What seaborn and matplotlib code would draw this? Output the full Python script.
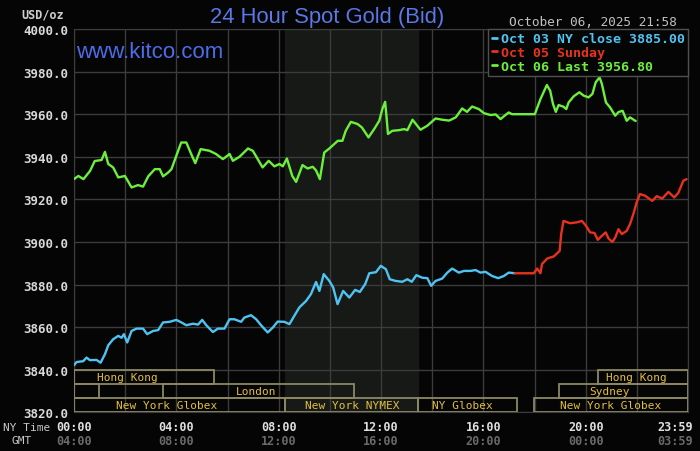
import matplotlib
matplotlib.use("Agg")
import matplotlib.pyplot as plt
import matplotlib.patches as mpatches
import matplotlib.transforms as mtransforms
from matplotlib.lines import Line2D
import seaborn as sns
import pandas as pd

# time in hours (NY time), price in USD/oz
oct03_hours = [0.0, 0.10, 0.36, 0.49, 0.62, 0.88, 1.04, 1.21, 1.34, 1.53, 1.73, 1.86, 1.95,
               2.08, 2.25, 2.44, 2.70, 2.86, 3.09, 3.29, 3.48, 3.74, 4.00, 4.20, 4.39, 4.65,
               4.85, 5.01, 5.17, 5.43, 5.62, 5.88, 6.08, 6.27, 6.53, 6.66, 6.92, 7.12, 7.31,
               7.57, 7.77, 7.96, 8.22, 8.42, 8.61, 8.81, 9.07, 9.26, 9.46, 9.59, 9.76, 9.98,
               10.13, 10.30, 10.52, 10.76, 10.99, 11.17, 11.38, 11.54, 11.80, 11.99, 12.19,
               12.34, 12.57, 12.83, 13.03, 13.20, 13.38, 13.61, 13.81, 13.96, 14.13, 14.39,
               14.59, 14.78, 15.04, 15.24, 15.50, 15.69, 15.89, 16.08, 16.34, 16.58, 16.80,
               16.99, 17.23]
oct03_price = [3842.1, 3843.6, 3844.0, 3845.7, 3844.5, 3844.6, 3843.3, 3847.3, 3851.5, 3854.3,
               3855.9, 3855.0, 3856.7, 3852.8, 3858.2, 3859.3, 3859.3, 3856.7, 3858.2, 3858.6,
               3862.2, 3862.5, 3863.4, 3862.2, 3860.9, 3861.6, 3861.2, 3863.4, 3860.9, 3857.7,
               3859.3, 3859.3, 3863.7, 3863.7, 3862.5, 3864.5, 3865.6, 3863.7, 3860.9, 3857.5,
               3859.8, 3862.6, 3862.5, 3861.4, 3865.3, 3869.3, 3872.3, 3875.5, 3881.2, 3877.0,
               3884.9, 3881.7, 3878.6, 3870.8, 3877.0, 3873.9, 3877.5, 3876.5, 3880.2, 3885.3,
               3885.8, 3888.8, 3887.2, 3882.5, 3881.7, 3881.3, 3882.5, 3881.3, 3884.4, 3883.2,
               3883.0, 3879.4, 3881.7, 3882.8, 3885.6, 3887.5, 3885.6, 3886.4, 3886.4, 3886.8,
               3885.6, 3886.0, 3884.0, 3883.0, 3884.0, 3885.6, 3885.3]

oct05_hours = [17.23, 17.97, 18.10, 18.23, 18.29, 18.49, 18.75, 18.98, 19.04, 19.13, 19.39,
               19.65, 19.85, 20.01, 20.17, 20.34, 20.47, 20.63, 20.78, 20.89, 21.04, 21.15,
               21.28, 21.41, 21.60, 21.73, 21.86, 21.99, 22.12, 22.32, 22.60, 22.77, 22.99,
               23.23, 23.46, 23.62, 23.81, 23.94]
oct05_price = [3885.3, 3885.3, 3887.5, 3885.3, 3889.6, 3892.2, 3893.2, 3895.8, 3903.7, 3909.9,
               3908.8, 3909.2, 3909.9, 3907.6, 3904.5, 3904.2, 3901.0, 3902.9, 3904.5, 3901.6,
               3900.0, 3902.0, 3906.0, 3903.7, 3905.2, 3908.4, 3913.1, 3918.6, 3922.5, 3921.7,
               3919.3, 3921.5, 3920.4, 3923.5, 3920.9, 3923.1, 3928.7, 3929.5]

oct06_hours = [0.0, 0.17, 0.37, 0.63, 0.81, 1.08, 1.21, 1.34, 1.53, 1.73, 1.99, 2.25, 2.50,
               2.70, 2.90, 3.16, 3.35, 3.48, 3.68, 3.81, 4.00, 4.19, 4.39, 4.58, 4.74, 4.95,
               5.30, 5.55, 5.82, 6.08, 6.21, 6.47, 6.80, 6.99, 7.37, 7.61, 7.83, 8.03, 8.16,
               8.32, 8.53, 8.68, 8.93, 9.13, 9.33, 9.46, 9.61, 9.78, 9.98, 10.31, 10.49,
               10.62, 10.82, 11.08, 11.25, 11.51, 11.73, 11.93, 12.05, 12.16, 12.21, 12.27,
               12.44, 12.70, 12.90, 13.03, 13.23, 13.54, 13.81, 14.13, 14.39, 14.66, 14.92,
               15.17, 15.36, 15.56, 15.82, 16.02, 16.28, 16.48, 16.67, 16.86, 16.99, 17.12,
               18.01, 18.23, 18.48, 18.61, 18.72, 18.83, 18.94, 19.13, 19.24, 19.33, 19.53,
               19.75, 19.92, 20.11, 20.26, 20.39, 20.54, 20.63, 20.79, 20.95, 21.15, 21.28,
               21.44, 21.60, 21.73, 21.95]
oct06_price = [3929.5, 3931.0, 3929.5, 3933.4, 3938.0, 3938.5, 3942.3, 3936.6, 3935.0, 3930.3,
               3931.0, 3925.6, 3926.7, 3926.0, 3930.8, 3934.2, 3934.2, 3930.8, 3932.6, 3934.2,
               3940.5, 3946.7, 3946.7, 3941.3, 3937.0, 3943.6, 3942.8, 3941.3, 3938.9, 3941.3,
               3938.1, 3940.0, 3943.9, 3942.8, 3935.0, 3938.1, 3935.5, 3936.6, 3935.5, 3939.2,
               3931.0, 3928.2, 3936.1, 3934.5, 3935.3, 3933.6, 3929.5, 3942.0, 3943.9, 3947.5,
               3947.5, 3952.2, 3956.4, 3955.4, 3953.8, 3949.1, 3953.0, 3956.9, 3962.4, 3965.8,
               3959.3, 3950.7, 3952.2, 3952.5, 3953.0, 3952.5, 3957.4, 3952.7, 3954.6, 3958.0,
               3957.4, 3957.0, 3958.5, 3962.7, 3961.1, 3963.6, 3962.4, 3960.5, 3959.6, 3959.9,
               3957.7, 3959.6, 3960.8, 3960.0, 3960.0, 3967.1, 3973.7, 3971.0, 3964.8, 3961.1,
               3964.3, 3963.5, 3962.4, 3965.5, 3968.4, 3970.3, 3968.7, 3967.9, 3969.5, 3975.0,
               3977.3, 3974.2, 3965.5, 3963.2, 3959.3, 3961.0, 3961.6, 3956.9, 3958.5, 3956.8]

series_labels = ["Oct 03 NY close 3885.00", "Oct 05 Sunday", "Oct 06 Last 3956.80"]
series_colors = ["#4fc3f2", "#e8321e", "#6cf03c"]

# trading sessions: name, start hour, end hour, row (0 = top), label centre hour
session_names = ["Hong Kong", "", "London", "New York Globex", "New York NYMEX", "NY Globex",
                 "Hong Kong", "Sydney", "New York Globex"]
session_start = [0.0, 0.0, 3.48, 0.0, 8.26, 13.46, 20.47, 18.94, 17.99]
session_end = [5.47, 0.96, 10.94, 8.26, 13.46, 17.32, 24.0, 24.0, 24.0]
session_row = [0, 1, 1, 2, 2, 2, 0, 1, 2]
session_label_at = [2.10, 0.48, 7.13, 3.62, 10.87, 15.16, 21.98, 20.93, 20.96]

ny_ticks = [0, 4, 8, 12, 16, 20, 24]
ny_labels = ["00:00", "04:00", "08:00", "12:00", "16:00", "20:00", "23:59"]
gmt_labels = ["04:00", "08:00", "12:00", "16:00", "20:00", "00:00", "03:59"]

df = pd.concat([
    pd.DataFrame({"hour": oct03_hours, "price": oct03_price, "series": series_labels[0]}),
    pd.DataFrame({"hour": oct05_hours, "price": oct05_price, "series": series_labels[1]}),
    pd.DataFrame({"hour": oct06_hours, "price": oct06_price, "series": series_labels[2]}),
])

sns.set_style("dark", {"axes.facecolor": "#050505", "figure.facecolor": "#050505"})
mono = "DejaVu Sans Mono"

fig = plt.figure(figsize=(7, 4.52), dpi=100)
ax = fig.add_axes([0.1057, 0.0856, 0.8773, 0.848])
ax.set_facecolor("#050505")

# NYMEX open shading
ax.axvspan(8.26, 13.46, color="#161916", zorder=0)

sns.lineplot(data=df, x="hour", y="price", hue="series", palette=series_colors,
             estimator=None, sort=False, linewidth=1.7, legend=False, ax=ax, zorder=3)

ax.set_xlim(0, 24)
ax.set_ylim(3820, 4000)
ax.set_xticks(range(0, 25, 2))
ax.set_xticklabels([])
ax.set_yticks(range(3820, 4001, 20))
ax.set_yticklabels(["%.1f" % v for v in range(3820, 4001, 20)], fontfamily=mono,
                   fontweight="bold", fontsize=9, color="#d8d8d8")
ax.tick_params(length=0, pad=4)
ax.grid(True, color="#3c3c3c", linewidth=1)
ax.set_xlabel("")
ax.set_ylabel("")
for sp in ax.spines.values():
    sp.set_color("#3c3c3c")

# session boxes
row_h = 20 / 3
for name, s, e, r, lx in zip(session_names, session_start, session_end, session_row,
                             session_label_at):
    y0 = 3840 - (r + 1) * row_h
    ax.add_patch(mpatches.Rectangle((s, y0), e - s, row_h, fill=False,
                                    edgecolor="#8c8864", linewidth=1.3, zorder=4))
    if name:
        ax.text(lx, y0 + row_h / 2, name, ha="center", va="center",
                fontfamily=mono, fontsize=8, color="#e2c03c", zorder=5)

# time labels
trans = mtransforms.blended_transform_factory(ax.transData, ax.transAxes)
for t, ny, gmt in zip(ny_ticks, ny_labels, gmt_labels):
    ha = "right" if t == 24 else "center"
    xt = 24.2 if t == 24 else t
    ax.text(xt, -0.037, ny, transform=trans, ha=ha, va="center", fontfamily=mono,
            fontweight="bold", fontsize=8.5, color="#e0e0e0")
    ax.text(xt, -0.074, gmt, transform=trans, ha=ha, va="center", fontfamily=mono,
            fontweight="bold", fontsize=8.5, color="#6a6a6a")
fig.text(0.004, 1 - 428 / 452, "NY Time", ha="left", va="center", fontfamily=mono,
         fontsize=8, color="#c8c8c8")
fig.text(0.017, 1 - 441 / 452, "GMT", ha="left", va="center", fontfamily=mono,
         fontsize=8, color="#c8c8c8")

# legend
handles = [Line2D([0], [0], color=c, linewidth=2) for c in series_colors]
leg = ax.legend(handles, series_labels, loc="upper right", bbox_to_anchor=(1.0, 1.0),
                borderaxespad=0, frameon=True, fancybox=False, handlelength=0.4,
                handletextpad=0.3, labelspacing=0.05, borderpad=0.25,
                prop={"family": mono, "weight": "bold", "size": 9.5},
                labelcolor=series_colors)
leg.get_frame().set_facecolor("#050505")
leg.get_frame().set_edgecolor("#505050")
leg.get_frame().set_alpha(1)
leg.set_zorder(6)

# titles
fig.text(0.468, 1 - 17 / 452, "24 Hour Spot Gold (Bid)", ha="center", va="center",
         fontfamily="Liberation Sans", fontsize=15.8, color="#5a78e6")
fig.text(0.967, 1 - 22 / 452, "October 06, 2025 21:58", ha="right", va="center",
         fontfamily=mono, fontsize=9.2, color="#c0c0c0")
fig.text(0.108, 1 - 53 / 452, "www.kitco.com", ha="left", va="center",
         fontfamily="Liberation Sans", fontsize=16, color="#4c6ce8")
fig.text(0.031, 1 - 15 / 452, "USD/oz", ha="left", va="center", fontfamily=mono,
         fontweight="bold", fontsize=8.5, color="#d0d0d0")

fig.savefig("out.png", dpi=100, facecolor=fig.get_facecolor())
